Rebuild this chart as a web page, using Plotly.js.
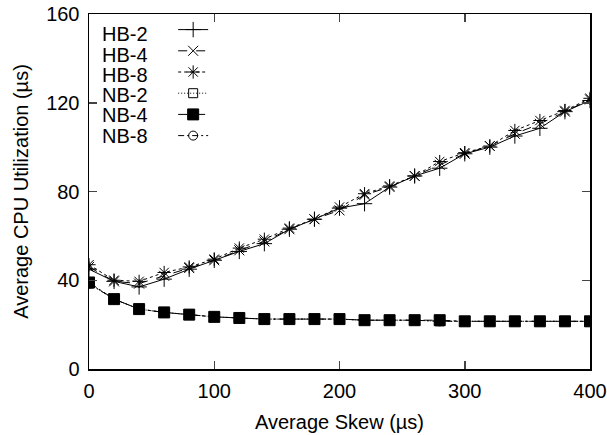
<!DOCTYPE html>
<html>
<head>
<meta charset="utf-8">
<script src="https://cdn.plot.ly/plotly-3.0.1.min.js"></script>
<style>html,body{margin:0;padding:0;background:#fff;}#chart{width:607px;height:435px;}</style>
</head>
<body>
<div id="chart"></div>
<script>
const skew = [0,20,40,60,80,100,120,140,160,180,200,220,240,260,280,300,320,340,360,380,400];
const hb2 = [45,39.5,37,40.5,45,49,53,56.5,63,67.5,72.5,74.5,82,87,90.5,97,100,105,108.5,116,121];
const hb4 = [46,39.5,38.5,42,45.5,49,53.5,57.5,63,67.5,71.5,78.5,82,87,92,97,100.5,106,110.5,116,121.5];
const hb8 = [47,40,39.5,43.5,46,49.5,54.5,58.5,63.5,67.5,73,79,82.5,87,93.5,97.5,100.5,107.5,112,116.5,122];
const nb2 = [38.5,31.5,27,25.5,24.5,23.5,23,22.5,22.5,22.5,22.5,22,22,22,21.5,21.5,21.5,21.5,21.5,21.5,21.5];
const nb4 = [39,31.5,27,25.5,24.5,23.5,23,22.5,22.5,22.5,22.5,22,22,22,22,21.5,21.5,21.5,21.5,21.5,21.5];
const nb8 = [38.5,31.5,27,25.5,24.5,23.5,23,22.5,22.5,22.5,22.5,22,22,22,21.5,21.5,21.5,21.5,21.5,21.5,21.5];
const names = ['HB-2','HB-4','HB-8','NB-2','NB-4','NB-8'];
const series = [hb2,hb4,hb8,nb2,nb4,nb8];
const dashes = ['solid','dash','3px,3px','1px,2px','dashdot','6px,3px,2px,3px'];
const symbols = ['cross-thin','x-thin','asterisk','square-open','square','circle-open'];
const sizes = [11,10,11,9,11,9];

const font = "Liberation Sans, Arial, sans-serif";
const traces = series.map((y,i)=>({
  x: skew, y: y, type:'scatter', mode:'lines+markers', name: '',
  line:{color:'#000', width:1, dash:dashes[i]},
  marker:{symbol:symbols[i], size:sizes[i], color:'#000', line:{color:'#000', width:1}}
}));
const annotations = names.map((n,i)=>({
  xref:'paper', yref:'paper', x:0.022, y:1 - 0.057 - i*0.0572, xanchor:'left', yanchor:'middle',
  text:n, showarrow:false, font:{family:font, size:20, color:'#000'}
}));
const layout = {
  width:607, height:435,
  margin:{l:89, r:17, t:14, b:66},
  paper_bgcolor:'#fff', plot_bgcolor:'#fff',
  showlegend:true,
  legend:{x:0.168, y:1, xanchor:'left', yanchor:'top', bgcolor:'rgba(0,0,0,0)',
    font:{family:font, size:14}, itemwidth:30, tracegroupgap:0},
  annotations: annotations,
  xaxis:{range:[0,400], tickvals:[0,100,200,300,400], ticks:'inside', ticklen:8, tickwidth:1.5,
    showline:true, linecolor:'#000', linewidth:1.5, mirror:'allticks', showgrid:false, zeroline:false,
    ticklabelstandoff:3,
    tickfont:{family:font, size:20, color:'#000'},
    title:{text:'Average Skew (µs)', font:{family:font, size:20, color:'#000'}, standoff:14}},
  yaxis:{range:[0,160], tickvals:[0,40,80,120,160], ticks:'inside', ticklen:8, tickwidth:1.5,
    showline:true, linecolor:'#000', linewidth:1.5, mirror:'allticks', showgrid:false, zeroline:false,
    ticklabelstandoff:4,
    tickfont:{family:font, size:20, color:'#000'},
    title:{text:'Average CPU Utilization (µs)', font:{family:font, size:20, color:'#000'}, standoff:12}}
};
Plotly.newPlot('chart', traces, layout, {displayModeBar:false, staticPlot:true});
</script>
</body>
</html>
